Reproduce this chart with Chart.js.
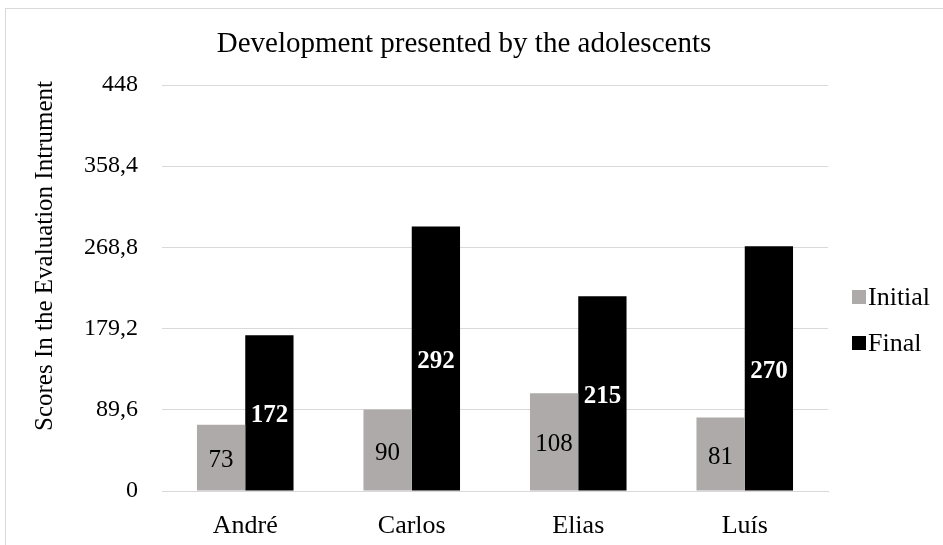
<!DOCTYPE html>
<html>
<head>
<meta charset="utf-8">
<script src="https://cdn.jsdelivr.net/npm/chart.js@4.4.1/dist/chart.umd.min.js"></script>
<style>
  html, body { margin: 0; padding: 0; background: #fff; overflow: hidden; }
  #frame { position: absolute; left: 5px; top: 8px; width: 1000px; height: 600px; border: 1px solid #d9d9d9; }
  #wrap { position: absolute; left: 0; top: 0; width: 943px; height: 545px; }
</style>
</head>
<body>
<div id="frame"></div>
<div id="wrap"><canvas id="devChart"></canvas></div>
<script>
// data
const names = ['André', 'Carlos', 'Elias', 'Luís'];
const initialScores = [73, 90, 108, 81];
const finalScores = [172, 292, 215, 270];
const yTicks = [0, 89.6, 179.2, 268.8, 358.4, 448];

const chartTitle = 'Development presented by the adolescents';
const yTitle = 'Scores In the Evaluation Intrument';
const serif = '"Liberation Serif", "Times New Roman", serif';

// values inside the bars, title, y title and legend drawn by hand
const decorations = {
    id: 'decorations',
    afterDatasetsDraw(chart) {
        const c = chart.ctx;
        chart.data.datasets.forEach((ds, i) => {
            chart.getDatasetMeta(i).data.forEach((bar, j) => {
                c.save();
                c.font = (i === 1 ? 'bold ' : '') + '25px ' + serif;
                c.fillStyle = i === 1 ? '#ffffff' : '#000000';
                c.textAlign = 'center';
                c.textBaseline = 'middle';
                c.fillText(ds.data[j], bar.x, (bar.y + bar.base) / 2 + 3);
                c.restore();
            });
        });
    },
    afterDraw(chart) {
        const c = chart.ctx;
        const area = chart.chartArea;
        c.save();
        c.fillStyle = '#000';
        c.textBaseline = 'middle';

        c.font = '29px ' + serif;
        c.textAlign = 'center';
        c.fillText(chartTitle, 464, 44);

        c.save();
        c.translate(45, 256);
        c.rotate(-Math.PI / 2);
        c.font = '25px ' + serif;
        c.fillText(yTitle, 0, 0);
        c.restore();

        c.textAlign = 'left';
        c.font = '26px ' + serif;
        const mid = (area.top + area.bottom) / 2;
        chart.data.datasets.forEach((ds, i) => {
            const y = mid + 9 + i * 46;
            c.fillStyle = ds.backgroundColor;
            c.fillRect(area.right + 24, y - 7, 14, 14);
            c.fillStyle = '#000';
            c.fillText(ds.label, area.right + 40, y + 1);
        });
        c.restore();
    }
};

const ctx = document.getElementById('devChart').getContext('2d');

new Chart(ctx, {
    type: 'bar',
    data: {
        labels: names,
        datasets: [
            { label: 'Initial', data: initialScores, backgroundColor: '#aeaaaa' },
            { label: 'Final', data: finalScores, backgroundColor: '#000000' }
        ]
    },
    options: {
        responsive: true,
        maintainAspectRatio: false,
        animation: false,
        categoryPercentage: 0.58,
        barPercentage: 1,
        layout: { padding: { left: 60, right: 115, top: 85, bottom: -16 } },
        plugins: {
            legend: { display: false },
            title: { display: false },
            tooltip: { enabled: false }
        },
        scales: {
            x: {
                grid: { display: false, drawTicks: false },
                border: { color: '#d9d9d9' },
                ticks: { color: '#000', font: { family: serif, size: 26, lineHeight: 1 }, padding: 22 }
            },
            y: {
                min: 0,
                max: 448,
                afterBuildTicks(axis) {
                    axis.ticks = yTicks.map(v => ({ value: v }));
                },
                ticks: {
                    color: '#000',
                    font: { family: serif, size: 24 },
                    padding: 24,
                    callback: v => String(v).replace('.', ',')
                },
                grid: { color: '#d9d9d9', drawTicks: false },
                border: { display: false }
            }
        }
    },
    plugins: [decorations]
});
</script>
</body>
</html>
